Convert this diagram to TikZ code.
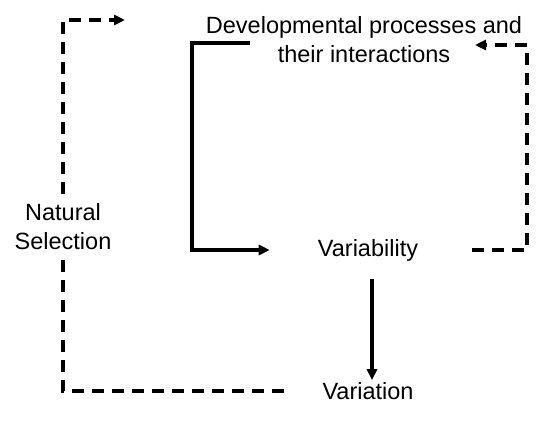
\documentclass[tikz,border=0pt]{standalone}
\usepackage{fontspec}
\setmainfont{Liberation Sans}
\usetikzlibrary{arrows.meta}
\begin{document}
\begin{tikzpicture}[x=1pt,y=-1pt,
  txt/.style={font=\fontsize{23.5}{29}\selectfont, align=center, inner sep=0pt},
  sol/.style={line width=3.2pt, -{Triangle[length=11pt,width=10pt]}},
  dsh/.style={line width=3.5pt, dash pattern=on 12pt off 8pt},
  dsha/.style={dsh, -{Triangle[length=11pt,width=10pt]}}]
\useasboundingbox (0,0) rectangle (541,428);
\node[txt] (dev) at (364,40) {Developmental processes and\\their interactions};
\node[txt] (var) at (368,250) {Variability};
\node[txt] (vtn) at (368,391) {Variation};
\node[txt] (ns) at (63,227) {Natural\\Selection};
\coordinate (topend) at (125,20);
\coordinate (devl) at (250,43);
\coordinate (devr) at (475,45);
% natural selection feedback
\draw[dsha] ([yshift=10pt]ns.north) -- (ns.north |- topend) -- (topend);
\draw[dsh] ([yshift=-10pt]ns.south) -- (ns.south |- vtn) -- ([xshift=-30pt]vtn.west);
% developmental processes -> variability
\draw[sol] (devl) -- (192,43) -- (192,250) -- ([xshift=-48pt]var.west);
% variability -> developmental processes
\draw[dsha] ([xshift=54pt]var.east) -- (527,250) -- (527,45) -- (devr);
% variability -> variation
\draw[sol] ([yshift=-18pt]var.south -| 372,0) -- ([yshift=2pt]vtn.north -| 372,0);
\end{tikzpicture}
\end{document}
